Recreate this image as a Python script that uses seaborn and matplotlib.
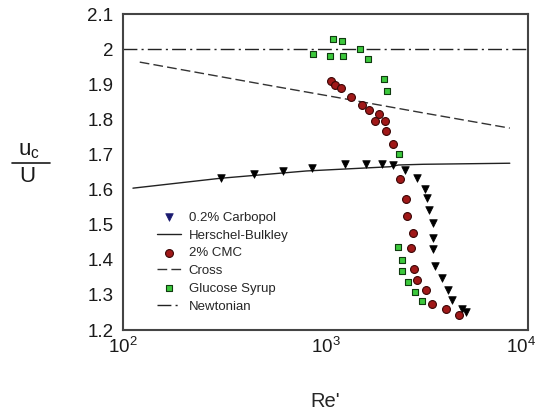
import numpy as np
import pandas as pd
import matplotlib
matplotlib.use("Agg")
import matplotlib.pyplot as plt
import matplotlib.transforms as mtransforms
from matplotlib.lines import Line2D
import seaborn as sns

# --- data ---
carbopol_re = [305, 445, 615, 855, 1248, 1585, 1901, 2148, 2478, 2820, 3098,
               3182, 3233, 3408, 3385, 3408, 3484, 3760, 4027, 4211, 4707, 4979]
carbopol_u = [1.634, 1.644, 1.653, 1.662, 1.672, 1.672, 1.672, 1.670, 1.655,
              1.633, 1.603, 1.575, 1.541, 1.506, 1.461, 1.430, 1.382, 1.347,
              1.313, 1.285, 1.261, 1.252]

hb_re = [112, 301, 807, 2084, 2300, 3041, 8150]
hb_u = [1.604, 1.632, 1.653, 1.665, 1.670, 1.672, 1.675]

cmc_re = [1061, 1114, 1189, 1336, 1509, 1641, 1845, 1755, 1967, 1985, 2163,
          2333, 2499, 2518, 2697, 2636, 2737, 2820, 3134, 3345, 3936, 4580]
cmc_u = [1.910, 1.897, 1.888, 1.864, 1.842, 1.826, 1.814, 1.796, 1.796, 1.768,
         1.731, 1.630, 1.573, 1.525, 1.475, 1.433, 1.373, 1.342, 1.313, 1.275,
         1.261, 1.242]

cross_re = [121, 500, 1180, 3000, 8150]
cross_u = [1.963, 1.899, 1.861, 1.819, 1.775]

glucose_re = [1085, 1206, 865, 1052, 1219, 1479, 1622, 1959, 2018, 2313,
              2290, 2378, 2392, 2574, 2775, 2997]
glucose_u = [2.028, 2.024, 1.986, 1.980, 1.980, 2.001, 1.971, 1.915, 1.881,
             1.701, 1.435, 1.399, 1.368, 1.336, 1.307, 1.282]

newton_re = [100, 10000]
newton_u = [2.0, 2.0]

yticks = [1.2, 1.3, 1.4, 1.5, 1.6, 1.7, 1.8, 1.9, 2.0, 2.1]
xticks = [100, 1000, 10000]
xticklabels = ["$10^2$", "$10^3$", "$10^4$"]

sns.set_style("white")
plt.rcParams["font.family"] = ["Liberation Sans", "DejaVu Sans"]
plt.rcParams["mathtext.fontset"] = "custom"
plt.rcParams["mathtext.rm"] = "Liberation Sans"
plt.rcParams["mathtext.it"] = "Liberation Sans"

fig, ax = plt.subplots(figsize=(5.38, 4.12), dpi=100)
fig.subplots_adjust(left=0.2286, right=0.981, top=0.966, bottom=0.199)
ax.set_xscale("log")

sns.scatterplot(x=carbopol_re, y=carbopol_u, ax=ax, marker="v", s=30,
                color="black", edgecolor="black", linewidth=0.5,
                label="0.2% Carbopol", zorder=4)
sns.lineplot(x=hb_re, y=hb_u, ax=ax, color="#222222", linewidth=1.0,
             sort=False, label="Herschel-Bulkley")
sns.scatterplot(x=cmc_re, y=cmc_u, ax=ax, marker="o", s=32,
                color="#a01818", edgecolor="#3a0505", linewidth=0.8,
                label="2% CMC", zorder=4)
sns.lineplot(x=cross_re, y=cross_u, ax=ax, color="#333333", linewidth=1.0,
             linestyle=(0, (7, 3)), sort=False, label="Cross")
sns.scatterplot(x=glucose_re, y=glucose_u, ax=ax, marker="s", s=24,
                color="#3cc83c", edgecolor="#103a10", linewidth=0.8,
                label="Glucose Syrup", zorder=4)
sns.lineplot(x=newton_re, y=newton_u, ax=ax, color="#222222", linewidth=1.0,
             linestyle=(0, (10, 3, 1.5, 3)), sort=False, label="Newtonian")

ax.set_xlim(100, 10000)
ax.set_ylim(1.2, 2.1)
ax.set_xticks(xticks)
ax.set_xticklabels(xticklabels)
ax.minorticks_off()
ax.set_yticks(yticks)
ax.set_yticklabels(["%g" % v for v in yticks])
ax.tick_params(axis="both", length=0, labelsize=13.5, colors="#1a1a1a")
ax.tick_params(axis="x", pad=5)
ax.tick_params(axis="y", pad=7)

# last x label sits against the figure edge, nudge it left a little
lab = ax.get_xticklabels()[-1]
lab.set_transform(lab.get_transform() +
                  mtransforms.ScaledTranslation(-7 / 100, 0, fig.dpi_scale_trans))

for sp in ax.spines.values():
    sp.set_color("#444444")
    sp.set_linewidth(1.5)

ax.set_xlabel("Re'", fontsize=14.5, labelpad=25)

# u_c / U label drawn as a stacked fraction
fig.text(29 / 538, 1 - 151 / 412, r"$\mathregular{u_c}$", fontsize=16,
         ha="center", va="center", color="#1a1a1a")
fig.text(27 / 538, 1 - 177 / 412, "U", fontsize=16,
         ha="center", va="center", color="#1a1a1a")
fig.add_artist(Line2D([12 / 538, 50 / 538], [1 - 163 / 412, 1 - 163 / 412],
                      transform=fig.transFigure, color="#1a1a1a", linewidth=1.2))

leg = ax.legend(loc="lower left", bbox_to_anchor=(0.084, 0.055), frameon=False,
                fontsize=9.5, labelspacing=0.42, handlelength=1.8,
                handletextpad=0.6, borderpad=0.0, borderaxespad=0.0)
leg.legend_handles[0].set_facecolor("#1a1a70")
leg.legend_handles[0].set_edgecolor("#1a1a70")

fig.savefig("out.png", dpi=100)
